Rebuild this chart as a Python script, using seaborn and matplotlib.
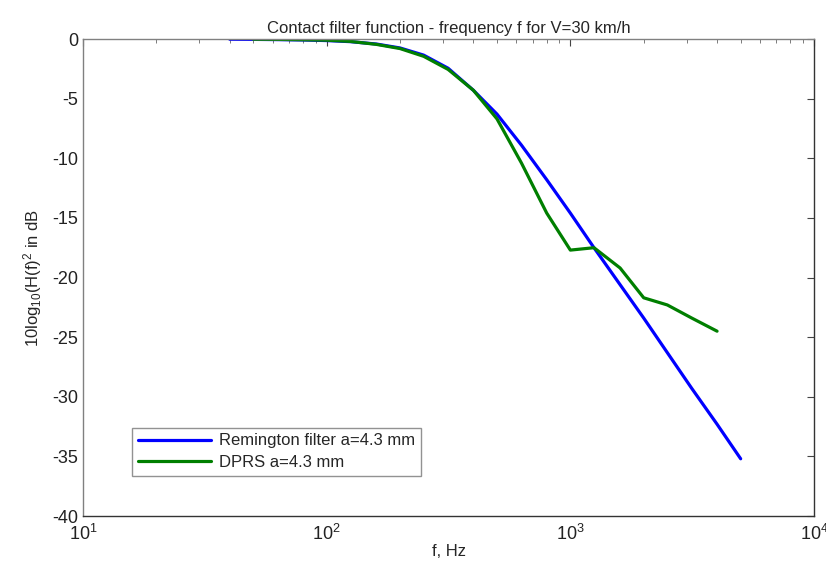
import numpy as np
import pandas as pd
import matplotlib
matplotlib.use('Agg')
import matplotlib.pyplot as plt
import seaborn as sns

# third-octave band centre frequencies, Hz
freq_remington = [40, 50, 63, 80, 100, 125, 160, 200, 250, 315, 400, 500, 630,
                  800, 1000, 1250, 1600, 2000, 2500, 3150, 4000, 5000]
db_remington = [-0.02, -0.03, -0.05, -0.08, -0.13, -0.22, -0.42, -0.75, -1.35, -2.45,
                -4.3, -6.3, -8.9, -11.8, -14.6, -17.5, -20.6, -23.4, -26.3, -29.3,
                -32.3, -35.2]

freq_dprs = [50, 63, 80, 100, 125, 160, 200, 250, 315, 400, 500, 630, 800, 1000,
             1250, 1600, 2000, 2500, 3150, 4000]
db_dprs = [-0.02, -0.03, -0.06, -0.1, -0.2, -0.45, -0.8, -1.45, -2.55, -4.3, -6.7,
           -10.4, -14.6, -17.7, -17.5, -19.2, -21.7, -22.3, -23.4, -24.5]

labels = ['Remington filter a=4.3 mm', 'DPRS a=4.3 mm']
colors = ['#0000ff', '#007f00']

df = pd.concat([
    pd.DataFrame({'f': freq_remington, 'dB': db_remington, 'filter': labels[0]}),
    pd.DataFrame({'f': freq_dprs, 'dB': db_dprs, 'filter': labels[1]}),
])

sns.set_style('white')
plt.rcParams['font.family'] = ['Liberation Sans', 'DejaVu Sans']
plt.rcParams['mathtext.fontset'] = 'custom'
plt.rcParams['mathtext.rm'] = 'Liberation Sans'
plt.rcParams['mathtext.it'] = 'Liberation Sans'
plt.rcParams['axes.unicode_minus'] = False

fig = plt.figure(figsize=(8.26, 5.68), dpi=100)
ax = fig.add_axes([0.1005, 0.0915, 0.885, 0.8398])

sns.lineplot(data=df, x='f', y='dB', hue='filter', palette=colors,
             linewidth=2.3, ax=ax, sort=False)

ax.set_xscale('log')
ax.set_xlim(10, 1e4)
ax.set_ylim(-40, 0)
ax.set_yticks(np.arange(-40, 1, 5))

ax.tick_params(axis='both', which='both', direction='in', top=True, right=True,
               labelsize=13, colors='#222222')
ax.tick_params(which='major', length=5, width=0.8, color='#444444')
ax.tick_params(which='minor', length=3, width=0.6, color='#666666')
ax.tick_params(axis='x', pad=6)

for side in ['left', 'top']:
    ax.spines[side].set_color('#808080')
for side in ['bottom', 'right']:
    ax.spines[side].set_color('#333333')
for s in ax.spines.values():
    s.set_linewidth(1.0)

ax.set_title('Contact filter function - frequency f for V=30 km/h', fontsize=12, pad=4)
ax.set_xlabel('f, Hz', fontsize=12, labelpad=0)
ax.set_ylabel(r'10log$_{10}$(H(f)$^2$ in dB', fontsize=12, labelpad=6)

leg = ax.legend(loc='lower left', bbox_to_anchor=(0.067, 0.084), borderaxespad=0,
                fontsize=12, fancybox=False, frameon=True, handlelength=4.4,
                borderpad=0.35, labelspacing=0.4, handletextpad=0.5)
leg.get_frame().set_edgecolor('#777777')
leg.get_frame().set_linewidth(1.0)

fig.savefig('out.png', dpi=100)
